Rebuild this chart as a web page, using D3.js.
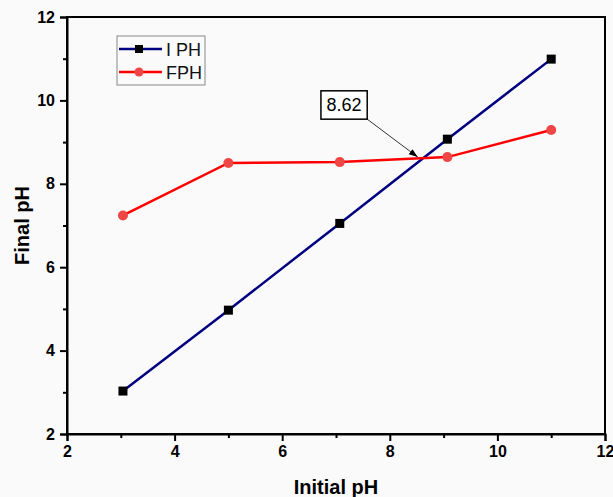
<!DOCTYPE html>
<html><head><meta charset="utf-8">
<script src="https://cdn.jsdelivr.net/npm/d3@7"></script>
<style>
html,body{margin:0;padding:0;background:#fafafa;}
svg{display:block;}
</style></head>
<body>
<svg id="chart" width="613" height="497"></svg>
<script>
// Data
const initialPH = [3.04, 5.0, 7.07, 9.07, 11.0];
const seriesIPH = [3.03, 4.97, 7.05, 9.07, 10.99];
const seriesFPH = [7.24, 8.50, 8.52, 8.64, 9.29];
const seriesNames = ["I PH", "FPH"];
const xTicks = [2, 4, 6, 8, 10, 12];
const yTicks = [2, 4, 6, 8, 10, 12];
const xMinor = [3, 5, 7, 9, 11];
const yMinor = [3, 5, 7, 9, 11];
const annotText = "8.62";
const annotBox = [6.72, 10.23, 7.58, 9.55]; // x0,y0,x1,y1 in data units
const annotArrow = [7.58, 9.55, 8.52, 8.64];

const svg = d3.select("#chart");
const L = 67, R = 605, T = 17, B = 434;
const x = d3.scaleLinear().domain([2, 12]).range([L, R]);
const y = d3.scaleLinear().domain([2, 12]).range([B, T]);

const font = "'Liberation Sans', Arial, sans-serif";

// Frame
svg.append("rect").attr("x", L).attr("y", T).attr("width", R - L).attr("height", B - T)
  .attr("fill", "none").attr("stroke", "#000").attr("stroke-width", 2);

// X axis
svg.append("g").attr("transform", `translate(0,${B})`)
  .call(d3.axisBottom(x).tickValues(xTicks).tickFormat(d3.format("d")).tickSize(7).tickPadding(5));
svg.append("g").attr("transform", `translate(0,${B})`)
  .call(d3.axisBottom(x).tickValues(xMinor).tickFormat("").tickSize(4))
  .call(g => g.select(".domain").remove());
// Y axis
svg.append("g").attr("transform", `translate(${L},0)`)
  .call(d3.axisLeft(y).tickValues(yTicks).tickFormat(d3.format("d")).tickSize(7).tickPadding(5));
svg.append("g").attr("transform", `translate(${L},0)`)
  .call(d3.axisLeft(y).tickValues(yMinor).tickFormat("").tickSize(4))
  .call(g => g.select(".domain").remove());

svg.selectAll(".domain").attr("stroke", "#000").attr("stroke-width", 2);
svg.selectAll(".tick line").attr("stroke", "#000").attr("stroke-width", 2);
svg.selectAll(".tick text").attr("font-family", font).attr("font-size", 16)
  .attr("font-weight", "bold").attr("fill", "#000");

// Axis titles
svg.append("text").attr("x", (L + R) / 2).attr("y", 494).attr("text-anchor", "middle")
  .attr("font-family", font).attr("font-size", 20).attr("font-weight", "bold").text("Initial pH");
svg.append("text").attr("transform", `translate(29,${(T + B) / 2}) rotate(-90)`)
  .attr("text-anchor", "middle").attr("font-family", font).attr("font-size", 20)
  .attr("font-weight", "bold").text("Final pH");

const line = d3.line().x(d => x(d[0])).y(d => y(d[1]));
const iData = initialPH.map((v, i) => [v, seriesIPH[i]]);
const fData = initialPH.map((v, i) => [v, seriesFPH[i]]);

svg.append("path").datum(iData).attr("d", line).attr("fill", "none")
  .attr("stroke", "#000080").attr("stroke-width", 2.5);
svg.append("path").datum(fData).attr("d", line).attr("fill", "none")
  .attr("stroke", "#ff0000").attr("stroke-width", 2.5);

svg.selectAll(".sq").data(iData).enter().append("rect")
  .attr("x", d => x(d[0]) - 4.5).attr("y", d => y(d[1]) - 4.5)
  .attr("width", 9).attr("height", 9).attr("fill", "#000");
svg.selectAll(".ci").data(fData).enter().append("circle")
  .attr("cx", d => x(d[0])).attr("cy", d => y(d[1])).attr("r", 5).attr("fill", "#f04545");

// Annotation
svg.append("defs").append("marker").attr("id", "arr").attr("viewBox", "0 0 10 10")
  .attr("refX", 10).attr("refY", 5).attr("markerWidth", 9).attr("markerHeight", 9)
  .attr("markerUnits", "userSpaceOnUse").attr("orient", "auto")
  .append("path").attr("d", "M0,1.5 L10,5 L0,8.5 Z").attr("fill", "#000");
svg.append("line").attr("x1", x(annotArrow[0])).attr("y1", y(annotArrow[1]))
  .attr("x2", x(annotArrow[2])).attr("y2", y(annotArrow[3]))
  .attr("stroke", "#333").attr("stroke-width", 1).attr("marker-end", "url(#arr)");
svg.append("rect").attr("x", x(annotBox[0])).attr("y", y(annotBox[1]))
  .attr("width", x(annotBox[2]) - x(annotBox[0])).attr("height", y(annotBox[3]) - y(annotBox[1]))
  .attr("fill", "#fff").attr("stroke", "#000").attr("stroke-width", 1.5);
svg.append("text").attr("x", (x(annotBox[0]) + x(annotBox[2])) / 2)
  .attr("y", (y(annotBox[1]) + y(annotBox[3])) / 2 + 6.5).attr("text-anchor", "middle")
  .attr("font-family", font).attr("font-size", 18).text(annotText);

// Legend
const lg = svg.append("g");
lg.append("rect").attr("x", 117).attr("y", 36).attr("width", 88).attr("height", 49)
  .attr("fill", "#fafafa").attr("stroke", "#888").attr("stroke-width", 1);
const rows = [{name: seriesNames[0], col: "#000080", mk: "sq", cy: 49},
              {name: seriesNames[1], col: "#ff0000", mk: "ci", cy: 72}];
rows.forEach(r => {
  lg.append("line").attr("x1", 119).attr("x2", 162).attr("y1", r.cy).attr("y2", r.cy)
    .attr("stroke", r.col).attr("stroke-width", 2.5);
  if (r.mk === "sq") lg.append("rect").attr("x", 135).attr("y", r.cy - 4).attr("width", 8).attr("height", 8).attr("fill", "#000");
  else lg.append("circle").attr("cx", 139).attr("cy", r.cy).attr("r", 4.5).attr("fill", "#f04545");
  lg.append("text").attr("x", 166).attr("y", r.cy + 6.5).attr("font-family", font)
    .attr("font-size", 18).attr("fill", "#111").text(r.name);
});
</script>
</body></html>
